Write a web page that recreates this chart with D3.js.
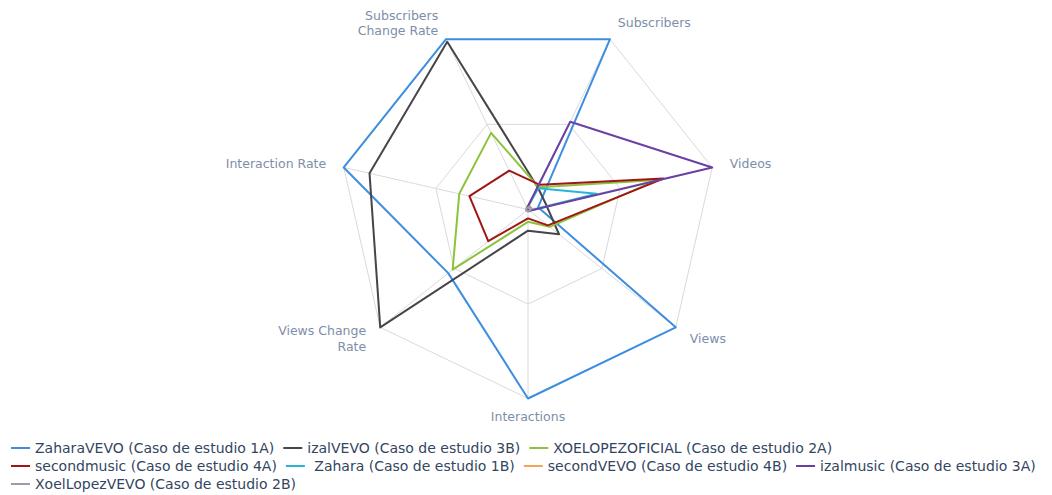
<!DOCTYPE html>
<html>
<head>
<meta charset="utf-8">
<script src="https://cdn.jsdelivr.net/npm/d3@7"></script>
<style>
  html, body { margin: 0; padding: 0; background: #ffffff; }
  svg { display: block; font-family: "DejaVu Sans", Verdana, sans-serif; }
</style>
</head>
<body>
<svg id="chart" width="1052" height="495"></svg>
<script>
// ---- data ----
const categories = ["Subscribers", "Videos", "Views", "Interactions", "Views Change Rate", "Interaction Rate", "Subscribers Change Rate"];
const categoryLabels = [["Subscribers"], ["Videos"], ["Views"], ["Interactions"], ["Views Change", "Rate"], ["Interaction Rate"], ["Subscribers", "Change Rate"]];
const gridLevels = [0.5, 1];

const seriesNames = [
  "ZaharaVEVO (Caso de estudio 1A)",
  "izalVEVO (Caso de estudio 3B)",
  "XOELOPEZOFICIAL (Caso de estudio 2A)",
  "secondmusic (Caso de estudio 4A)",
  " Zahara (Caso de estudio 1B)",
  "secondVEVO (Caso de estudio 4B)",
  "izalmusic (Caso de estudio 3A)",
  "XoelLopezVEVO (Caso de estudio 2B)"
];
const zaharaVEVO     = [1.000, 0.055, 1.000, 1.000, 0.540, 1.000, 1.000];
const izalVEVO       = [0.125, 0.100, 0.210, 0.112, 1.000, 0.860, 0.985];
const xoelopezOficial= [0.130, 0.700, 0.147, 0.065, 0.510, 0.373, 0.450];
const secondmusic    = [0.145, 0.735, 0.135, 0.047, 0.269, 0.318, 0.228];
const zahara         = [0.125, 0.373, 0.010, 0.005, 0.005, 0.005, 0.010];
const secondVEVO     = [0.020, 0.020, 0.015, 0.010, 0.010, 0.010, 0.015];
const izalmusic      = [0.515, 1.000, 0.010, 0.000, 0.000, 0.000, 0.010];
const xoelLopezVEVO  = [0.015, 0.020, 0.010, 0.010, 0.010, 0.010, 0.010];
const seriesValues = [zaharaVEVO, izalVEVO, xoelopezOficial, secondmusic, zahara, secondVEVO, izalmusic, xoelLopezVEVO];

// ---- styles ----
const colors = ["#3d8ee0", "#45454a", "#8dc33a", "#a01616", "#2ab4d6", "#f7a35c", "#6b40a3", "#9b9bab"];

const svg = d3.select("#chart");
const cx = 528, cy = 209.5, R = 189;
const n = categories.length;

const rScale = d3.scaleLinear().domain([0, 1]).range([0, R]);
const angleScale = d3.scaleLinear().domain([0, n]).range([Math.PI / n, Math.PI / n + 2 * Math.PI]);

const g = svg.append("g").attr("transform", `translate(${cx},${cy})`);

// grid polygons
const gridLine = d3.lineRadial()
  .angle((d, i) => angleScale(i))
  .radius(d => rScale(d))
  .curve(d3.curveLinearClosed);

g.selectAll("path.grid")
  .data(gridLevels)
  .join("path")
  .attr("class", "grid")
  .attr("d", lv => gridLine(categories.map(() => lv)))
  .attr("fill", "none")
  .attr("stroke", "#dadada")
  .attr("stroke-width", 1);

// spokes
g.selectAll("line.spoke")
  .data(categories)
  .join("line")
  .attr("class", "spoke")
  .attr("x1", 0).attr("y1", 0)
  .attr("x2", (d, i) => rScale(1) * Math.sin(angleScale(i)))
  .attr("y2", (d, i) => -rScale(1) * Math.cos(angleScale(i)))
  .attr("stroke", "#dadada")
  .attr("stroke-width", 1);

// axis labels
const labelOffset = 18;
const labelG = g.selectAll("text.axislabel")
  .data(categories)
  .join("text")
  .attr("class", "axislabel")
  .attr("font-size", "12.5px")
  .attr("fill", "#7d8ea9")
  .each(function (d, i) {
    const a = angleScale(i);
    const x = (rScale(1) + labelOffset) * Math.sin(a);
    const y = -(rScale(1) + labelOffset) * Math.cos(a);
    const anchor = Math.abs(x) < 5 ? "middle" : (x > 0 ? "start" : "end");
    const lines = categoryLabels[i];
    const lh = 15.5;
    const t = d3.select(this).attr("text-anchor", anchor);
    lines.forEach((ln, k) => {
      t.append("tspan")
        .attr("x", x)
        .attr("y", y + (k - (lines.length - 1) / 2) * lh)
        .attr("dy", "0.35em")
        .text(ln);
    });
  });

// series
const seriesLine = d3.lineRadial()
  .angle((d, i) => angleScale(i))
  .radius(d => rScale(d))
  .curve(d3.curveLinearClosed);

g.selectAll("path.series")
  .data(seriesValues)
  .join("path")
  .attr("class", "series")
  .attr("d", d => seriesLine(d))
  .attr("fill", "none")
  .attr("stroke", (d, i) => colors[i])
  .attr("stroke-width", 2)
  .attr("stroke-linejoin", "round");

// legend (flow layout)
const legend = svg.append("g").attr("class", "legend");
let lx = 11, ly = 448;
const rowH = 18, maxX = 1047, symW = 19, textGap = 24, itemGap = 9;
seriesNames.forEach((name, i) => {
  const item = legend.append("g");
  const txt = item.append("text")
    .attr("xml:space", "preserve")
    .style("white-space", "pre")
    .attr("font-size", "14px")
    .attr("fill", "#33455f")
    .attr("dy", "0.35em")
    .text(name);
  const w = txt.node().getComputedTextLength();
  if (lx + textGap + w > maxX && lx > 11) {
    lx = 11; ly += rowH;
  }
  item.append("line")
    .attr("x1", lx).attr("x2", lx + symW)
    .attr("y1", ly).attr("y2", ly)
    .attr("stroke", colors[i])
    .attr("stroke-width", 2);
  txt.attr("x", lx + textGap).attr("y", ly);
  lx = lx + textGap + w + itemGap;
});
</script>
</body>
</html>
